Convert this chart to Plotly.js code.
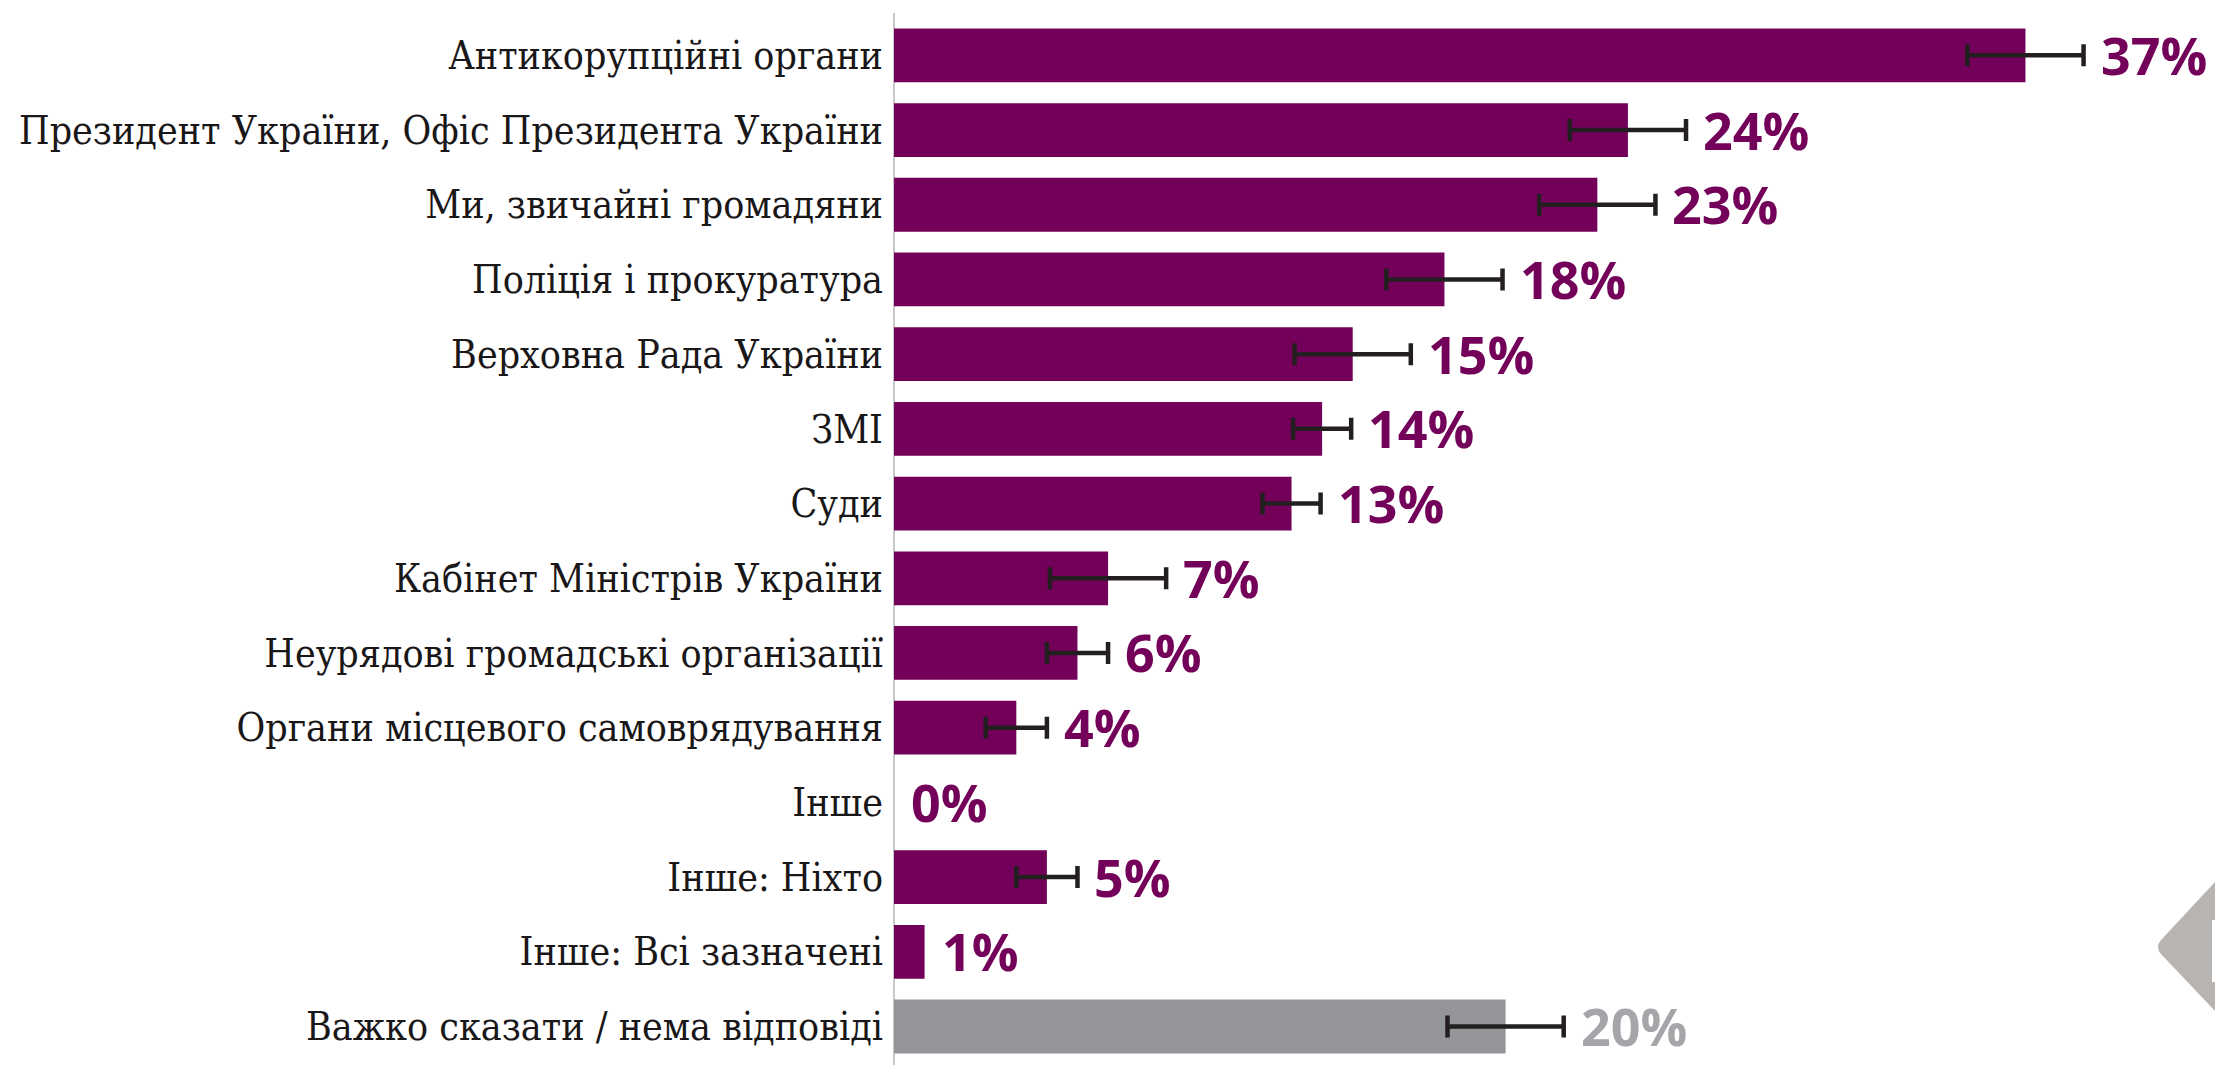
<!DOCTYPE html>
<html>
<head>
<meta charset="utf-8">
<script src="https://cdn.plot.ly/plotly-3.0.1.min.js"></script>
<style>html,body{margin:0;padding:0;background:#fff;}#chart{width:2215px;height:1065px;}</style>
</head>
<body>
<div id="chart"></div>
<script>
const categories = [
  "Антикорупційні органи",
  "Президент України, Офіс Президента України",
  "Ми, звичайні громадяни",
  "Поліція і прокуратура",
  "Верховна Рада України",
  "ЗМІ",
  "Суди",
  "Кабінет Міністрів України",
  "Неурядові громадські організації",
  "Органи місцевого самоврядування",
  "Інше",
  "Інше: Ніхто",
  "Інше: Всі зазначені",
  "Важко сказати / нема відповіді"
];
const values = [37, 24, 23, 18, 15, 14, 13, 7, 6, 4, 0, 5, 1, 20];
const errors = [1.9, 1.9, 1.9, 1.9, 1.9, 0.95, 0.95, 1.9, 1.0, 1.0, null, 1.0, null, 1.9];
const valueLabels = ["37%", "24%", "23%", "18%", "15%", "14%", "13%", "7%", "6%", "4%", "0%", "5%", "1%", "20%"];

const PURPLE = "#730059";
const GREY = "#939598";
const GREY_TEXT = "#a4a6a9";

const barColors = categories.map((c, i) => i === categories.length - 1 ? GREY : PURPLE);
const labelColors = categories.map((c, i) => i === categories.length - 1 ? GREY_TEXT : PURPLE);

const trace = {
  type: "bar",
  orientation: "h",
  y: categories,
  x: values,
  width: 0.72,
  marker: {color: barColors, line: {width: 0}},
  error_x: {
    type: "data",
    array: errors.map(e => e === null ? NaN : e),
    symmetric: true,
    color: "#231f20",
    thickness: 4.5,
    width: 11,
    visible: true
  },
  hoverinfo: "none"
};

const annotations = categories.map((c, i) => ({
  x: values[i] + (errors[i] || 0),
  y: c,
  xref: "x",
  yref: "y",
  text: valueLabels[i],
  showarrow: false,
  xanchor: "left",
  yanchor: "middle",
  xshift: 15,
  yshift: 1,
  font: {family: "Open Sans, sans-serif", size: 52, color: labelColors[i], weight: 700}
}));

const W = 2215, H = 1065, L = 894, T = 18, B = 0, R = 0;
const pw = W - L - R, ph = H - T - B;
const px = x => (x - L) / pw;
const py = y => 1 - (y - T) / ph;

const shapes = [
  {type: "line", xref: "paper", yref: "paper", x0: 0, x1: 0, y0: py(1065), y1: py(13),
   line: {color: "#c9c9c9", width: 2}, layer: "below"},
  {type: "path", xref: "paper", yref: "paper",
   path: `M ${px(2215)} ${py(882)} L ${px(2161)} ${py(940)} Q ${px(2155)} ${py(947)} ${px(2161)} ${py(954)} L ${px(2215)} ${py(1011)} Z`,
   fillcolor: "#b7b4b2", line: {width: 0}, layer: "above"},
  {type: "rect", xref: "paper", yref: "paper", x0: px(2212), x1: px(2230), y0: py(982), y1: py(920),
   fillcolor: "#ffffff", line: {width: 0}, layer: "above"}
];

const layout = {
  width: W, height: H,
  margin: {l: L, r: R, t: T, b: B, pad: 0},
  paper_bgcolor: "#ffffff",
  plot_bgcolor: "#ffffff",
  showlegend: false,
  bargap: 0.28,
  xaxis: {
    range: [0, pw / 30.58],
    showgrid: false, zeroline: false, showline: false,
    showticklabels: false, ticks: "", fixedrange: true
  },
  yaxis: {
    type: "category",
    autorange: "reversed",
    showgrid: false, zeroline: false, showline: false,
    ticks: "",
    ticklabelstandoff: 10,
    tickfont: {family: "DejaVu Serif Condensed, DejaVu Serif, serif", size: 39, color: "#1a1718", stretch: "condensed"},
    fixedrange: true
  },
  annotations: annotations,
  shapes: shapes
};

Plotly.newPlot("chart", [trace], layout, {displayModeBar: false, staticPlot: true});
</script>
</body>
</html>
